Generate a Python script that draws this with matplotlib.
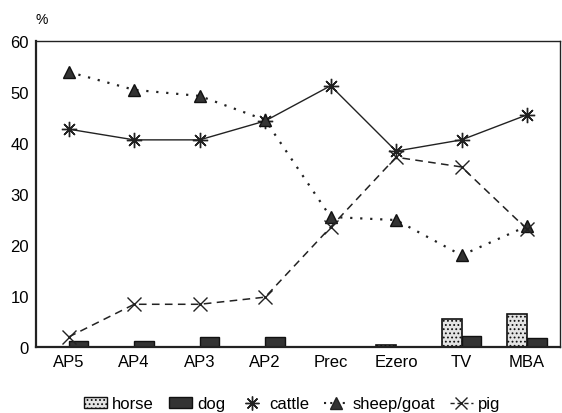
import matplotlib
matplotlib.use("Agg")
import matplotlib.pyplot as plt
import numpy as np
from matplotlib.lines import Line2D
from matplotlib.patches import Patch

plt.rcParams['font.family'] = ['Liberation Sans', 'DejaVu Sans']
plt.rcParams['hatch.color'] = '#9a9a9a'
plt.rcParams['hatch.linewidth'] = 0.8

categories = ["AP5", "AP4", "AP3", "AP2", "Prec", "Ezero", "TV", "MBA"]
horse = [0, 0, 0, 0, 0, 0.4, 5.5, 6.5]
dog = [1.2, 1.2, 1.9, 1.9, 0, 0, 2.1, 1.8]
cattle = [42.7, 40.6, 40.6, 44.3, 51.2, 38.4, 40.6, 45.5]
sheep_goat = [53.9, 50.4, 49.2, 44.5, 25.5, 24.9, 18.0, 23.7]
pig = [2.0, 8.4, 8.4, 9.8, 23.5, 37.2, 35.3, 23.1]
yticks = [0, 10, 20, 30, 40, 50, 60]

fig = plt.figure(figsize=(5.62, 4.14), dpi=100)
ax = fig.add_axes([0.064, 0.159, 0.932, 0.740])

x = np.arange(len(categories))
w = 0.3
horse_col = '#e4e4e4'
dark = '#333333'
hx = [xi - w / 2 for xi, h in zip(x, horse) if h > 0]
hv = [h for h in horse if h > 0]
ax.bar(hx, hv, width=w, color=horse_col, edgecolor='#111111', linewidth=1.2, hatch='....', zorder=2)
dx = [xi + w / 2 for xi, d in zip(x, dog) if d > 0]
dv = [d for d in dog if d > 0]
ax.bar(dx, dv, width=w, color=dark, edgecolor='#111111', linewidth=1.0, zorder=2)

ast = (8, 2, 0)
ax.plot(x, cattle, color='#222222', linestyle='-', linewidth=1.0, marker=ast, markersize=11,
        markeredgewidth=1.0, zorder=3)
ax.plot(x, sheep_goat, color='#222222', linestyle=(0, (1, 3.5)), linewidth=1.6, marker='^',
        markersize=9, markerfacecolor=dark, markeredgecolor='#111111', zorder=3)
ax.plot(x, pig, color='#222222', linestyle=(0, (5, 3.5)), linewidth=1.1, marker='x', markersize=10,
        markeredgewidth=1.0, zorder=3)

ax.set_xlim(-0.5, 7.5)
ax.set_ylim(0, 60)
ax.set_yticks(yticks)
ax.set_yticklabels([str(t) for t in yticks], fontsize=12)
ax.set_xticks(x)
ax.set_xticklabels(categories, fontsize=12)
ax.tick_params(axis='both', length=0, pad=5)
for s in ax.spines.values():
    s.set_linewidth(1.0)
    s.set_color('#222222')
ax.spines['left'].set_linewidth(1.6)
ax.spines['bottom'].set_linewidth(1.6)

fig.text(0.064, 0.952, "%", fontsize=10, ha='left', va='center')

handles = [
    Patch(facecolor=horse_col, edgecolor='#111111', hatch='....', label='horse'),
    Patch(facecolor=dark, edgecolor='#111111', label='dog'),
    Line2D([], [], color='#222222', linestyle='none', marker=ast, markersize=10, label='cattle'),
    Line2D([], [], color='#222222', linestyle=(0, (1, 2)), linewidth=1.5, marker='^', markersize=8,
           markerfacecolor=dark, label='sheep/goat'),
    Line2D([], [], color='#222222', linestyle=(0, (3, 2)), linewidth=1.0, marker='x', markersize=9,
           label='pig'),
]
fig.legend(handles=handles, loc='center', bbox_to_anchor=(0.52, 0.022), ncol=5, frameon=False,
           fontsize=12, handlelength=1.4, handletextpad=0.3, columnspacing=0.9,
           borderaxespad=0)

fig.savefig("out.png", dpi=100)
